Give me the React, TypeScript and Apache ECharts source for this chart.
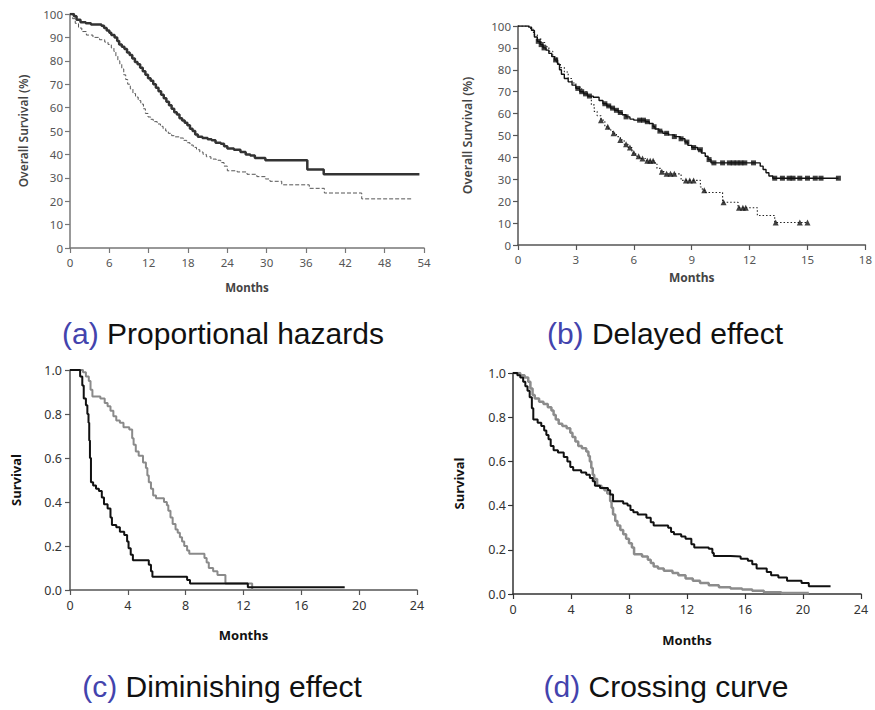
import React, { useEffect, useRef } from "react";
import * as echarts from "echarts";

// ---------- (a) Proportional hazards ----------
const aSolidT = [0,0.6,1.0,1.6,2.4,3.2,4.8,5.2,5.6,6.0,6.3,6.8,7.2,7.5,7.9,8.3,8.7,9.1,9.5,9.9,10.3,10.7,11.1,11.5,11.9,12.3,12.7,13.1,13.5,13.9,14.3,14.7,15.1,15.5,15.9,16.3,16.7,17.1,17.5,17.9,18.3,18.7,19.1,19.5,20.2,21.0,21.6,22.2,23.0,23.5,24.0,25.0,26.0,26.8,27.5,28.2,29.8,36.2,38.7,53.3];
const aSolidS = [100,99,97.5,96.5,96,95.5,95,94,93,92,91,90,88.5,87,86,85,83.5,82.5,81,79.5,78.5,77,75.5,74,72.5,71.5,70,68.5,67,65.5,64,62.5,61,59.5,58,57,55.5,54.5,53.5,52.5,51,50,48.5,47.5,47,46.5,46,45,44.5,43.5,42.5,42,41,40,39.5,38.5,37.5,33.5,31.5,31.5];
const aDashT = [0,0.4,0.8,1.3,1.8,2.5,3.5,4.5,5.3,5.8,6.3,6.7,7.0,7.3,7.6,7.9,8.2,8.5,8.8,9.2,9.6,10.0,10.4,10.8,11.2,11.5,11.9,12.3,12.7,13.3,13.8,14.2,14.6,15.0,15.5,16.0,16.8,17.3,17.8,18.3,18.8,19.3,19.8,20.3,20.8,21.5,22.3,23.0,23.5,24.0,25.5,27.0,28.5,29.8,30.5,32.3,36.5,38.8,44.5,52.3];
const aDashS = [100,98,96,94,92.5,91,90,89,88,87,85.5,84,82,80,78.5,76.5,74,72,70,68,66,64.5,63,61.5,59.5,57.5,56,55,54,53,52,51,50,49,48,47.5,47,46,45,44,43,42,41,40,39,38,37.5,36.5,35,33,32.5,31.5,30.5,29.5,28.5,27,25.5,23.5,21,21];

// ---------- (b) Delayed effect ----------
const bSolidT = [0,0.55,0.7,0.85,1.0,1.15,1.3,1.45,1.6,1.75,1.9,2.05,2.15,2.25,2.4,2.6,2.8,3.0,3.2,3.4,3.6,3.9,4.2,4.4,4.6,4.8,5.0,5.2,5.4,5.6,5.8,6.0,6.6,6.8,7.0,7.1,7.3,7.5,7.8,8.1,8.4,8.65,8.8,9.0,9.3,9.5,9.7,9.85,10.0,12.55,12.7,12.85,13.0,13.2,16.6];
const bSolidS = [100,99.5,98,95,93,91.5,90,89,87.5,86,84.5,82.5,80,78,76,74.5,73,71.5,70,69,68,67.5,66,64.5,63.5,62.5,61.5,60.5,59.5,58.5,57.5,57,56.3,55.5,54,53,52,51,50.3,49.5,48.5,47,45.5,44.5,43.5,42,40.5,39,37.5,36,34.5,33,31.5,30.5,30.5];
const bDotT = [0,0.5,0.65,0.8,1.0,1.2,1.4,1.6,1.8,2.0,2.2,2.4,2.6,2.8,3.0,3.3,3.6,3.8,3.95,4.1,4.3,4.5,4.7,4.9,5.1,5.3,5.5,5.7,5.9,6.1,6.3,6.6,7.1,7.2,7.4,7.6,8.45,9.45,9.55,9.7,10.6,11.4,12.4,13.3,15.0];
const bDotS = [100,100,98.5,96,94,92.5,90.5,88.5,86,83,81,79,76,74,72,70,68,64,61,59,57,54,52.5,51,49.5,48,46,44.5,42,40.5,39.5,38.5,37,35,33.5,32.5,29.5,26.5,25,24,19.5,17,13.5,10.3,10.3];
const bSquareCensorT = [1.05,1.2,1.35,1.95,3.1,3.3,3.5,3.7,4.5,4.7,4.9,5.1,5.3,5.6,6.3,6.5,6.7,7.05,7.35,7.7,8.1,8.45,8.75,9.1,9.45,9.9,10.15,10.6,10.95,11.15,11.35,11.55,11.75,12.2,13.3,13.7,14.05,14.25,14.6,15.0,15.4,15.7,16.6];
const bTriangleCensorT = [4.3,4.65,4.95,5.3,5.6,5.8,6.0,6.25,6.45,6.7,6.85,7.0,7.45,7.7,7.9,8.1,8.7,8.9,9.1,9.65,10.65,11.45,11.65,11.8,13.35,14.6,15.0];

// ---------- (c) Diminishing effect ----------
const cBlackT = [0,0.7,0.85,0.95,1.1,1.2,1.28,1.33,1.38,1.45,1.6,1.8,2.0,2.2,2.35,2.6,2.8,2.9,3.2,3.45,3.75,3.95,4.05,4.2,4.35,5.45,5.6,5.7,8.1,8.3,12.3,19.0];
const cBlackS = [1,0.97,0.93,0.87,0.84,0.8,0.76,0.68,0.6,0.49,0.475,0.46,0.45,0.42,0.39,0.37,0.33,0.295,0.285,0.265,0.25,0.22,0.19,0.16,0.135,0.115,0.085,0.06,0.045,0.03,0.012,0.012];
const cGrayT = [0,0.9,1.1,1.3,1.42,1.55,2.1,2.4,2.6,2.8,3.0,3.2,3.45,3.7,4.1,4.3,4.4,4.55,4.75,5.05,5.25,5.35,5.45,5.6,5.75,5.95,6.5,6.7,6.8,6.95,7.1,7.3,7.45,7.6,7.75,7.9,8.1,8.25,9.3,9.45,9.6,9.9,10.2,10.75,12.6];
const cGrayS = [1,0.99,0.97,0.95,0.91,0.88,0.87,0.85,0.835,0.815,0.79,0.77,0.76,0.74,0.73,0.69,0.66,0.63,0.61,0.58,0.555,0.52,0.49,0.46,0.43,0.417,0.4,0.385,0.36,0.33,0.3,0.275,0.26,0.24,0.22,0.2,0.18,0.165,0.145,0.125,0.1,0.085,0.068,0.03,0];

// ---------- (d) Crossing curve ----------
const dBlackT = [0,0.3,0.5,0.7,0.85,1.0,1.15,1.3,1.4,1.7,1.95,2.15,2.3,2.45,2.6,2.8,3.1,3.5,3.75,3.95,4.15,4.7,5.05,5.3,5.5,5.65,6.0,6.55,6.7,6.9,7.6,7.9,8.1,8.3,8.6,9.2,9.5,9.7,10.7,10.9,11.1,11.6,11.9,12.3,12.5,13.5,13.75,13.85,15.0,15.7,16.2,16.5,16.8,17.5,17.8,18.3,18.9,19.9,20.4,21.9];
const dBlackS = [1,0.99,0.98,0.96,0.94,0.92,0.89,0.84,0.79,0.775,0.76,0.74,0.72,0.7,0.67,0.65,0.64,0.62,0.6,0.575,0.56,0.55,0.54,0.525,0.51,0.49,0.48,0.47,0.45,0.42,0.41,0.4,0.38,0.37,0.36,0.345,0.325,0.31,0.3,0.28,0.27,0.26,0.25,0.225,0.21,0.205,0.185,0.172,0.17,0.16,0.15,0.135,0.115,0.1,0.085,0.075,0.06,0.05,0.035,0.035];
const dGrayT = [0,0.5,0.8,1.05,1.2,1.35,1.5,1.8,2.1,2.4,2.65,2.8,2.95,3.15,3.4,3.7,3.95,4.1,4.3,4.5,4.75,5.05,5.2,5.3,5.4,5.5,5.6,5.8,6.1,6.3,6.5,6.7,6.8,6.9,7.05,7.2,7.4,7.6,7.8,8.0,8.2,8.35,8.9,9.3,9.5,9.7,10.0,10.4,11.0,11.4,11.9,12.4,12.9,13.5,14.2,15.0,15.8,16.5,17.3,18.5,20.4];
const dGrayS = [1,0.99,0.98,0.96,0.93,0.9,0.885,0.87,0.86,0.845,0.83,0.81,0.79,0.77,0.76,0.75,0.73,0.71,0.69,0.67,0.66,0.645,0.625,0.6,0.57,0.54,0.52,0.49,0.48,0.47,0.455,0.42,0.39,0.36,0.33,0.31,0.29,0.27,0.25,0.23,0.21,0.18,0.17,0.155,0.14,0.125,0.115,0.105,0.095,0.085,0.07,0.06,0.05,0.04,0.03,0.025,0.02,0.015,0.008,0.004,0.004];

// ---------- captions ----------
const captionTags = ["(a)", "(b)", "(c)", "(d)"];
const captionTexts = ["Proportional hazards", "Delayed effect", "Diminishing effect", "Crossing curve"];

const zip = (t: number[], s: number[]) => t.map((x, i) => [x, s[i]]);
const stepAt = (t: number[], s: number[], x: number) => {
  let v = s[0];
  for (let i = 0; i < t.length; i++) {
    if (t[i] <= x) v = s[i];
    else break;
  }
  return v;
};

const TICK_FONT = "Noto Sans";
const CAP_FONT = "Liberation Sans";

function xAxis(gridIndex: number, max: number, interval: number, st: any) {
  return {
    type: "value",
    gridIndex,
    min: 0,
    max,
    interval,
    name: "Months",
    nameLocation: "middle",
    nameGap: st.xNameGap,
    nameTextStyle: { fontFamily: TICK_FONT, fontWeight: "bold", fontSize: st.xNameSize, color: st.nameColor },
    axisLine: { show: true, onZero: false, lineStyle: { color: st.axisColor, width: 1.5 } },
    axisTick: { show: true, length: 5, lineStyle: { color: st.axisColor, width: 1.2 } },
    axisLabel: { fontFamily: TICK_FONT, fontSize: st.labelSize, color: st.labelColor, margin: st.xMargin },
    splitLine: { show: false },
  };
}

function yAxis(gridIndex: number, max: number, interval: number, name: string, st: any, fmt?: (v: number) => string) {
  return {
    type: "value",
    gridIndex,
    min: 0,
    max,
    interval,
    name,
    nameLocation: "middle",
    nameRotate: 90,
    nameGap: st.yNameGap,
    nameTextStyle: { fontFamily: TICK_FONT, fontWeight: st.yNameWeight, fontSize: st.yNameSize, color: st.nameColor },
    axisLine: { show: true, onZero: false, lineStyle: { color: st.axisColor, width: 1.5 } },
    axisTick: { show: true, length: 5, lineStyle: { color: st.axisColor, width: 1.2 } },
    axisLabel: { fontFamily: TICK_FONT, fontSize: st.labelSize, color: st.labelColor, margin: st.yMargin, formatter: fmt },
    splitLine: { show: false },
  };
}

const stA = { axisColor: "#777", labelColor: "#555", labelSize: 11.5, xNameSize: 11.5, yNameSize: 12, yNameWeight: 600, nameColor: "#444", xNameGap: 33, yNameGap: 41, xMargin: 8, yMargin: 7 };
const stB = { axisColor: "#555", labelColor: "#555", labelSize: 11.5, xNameSize: 12, yNameSize: 12.5, yNameWeight: 600, nameColor: "#444", xNameGap: 26, yNameGap: 44, xMargin: 8, yMargin: 7 };
const stC = { axisColor: "#555", labelColor: "#333", labelSize: 12.5, xNameSize: 13, yNameSize: 13, yNameWeight: "bold", nameColor: "#111", xNameGap: 38, yNameGap: 48, xMargin: 9, yMargin: 8 };
const stD = { axisColor: "#333", labelColor: "#333", labelSize: 12.5, xNameSize: 13, yNameSize: 13, yNameWeight: "bold", nameColor: "#111", xNameGap: 39, yNameGap: 48, xMargin: 9, yMargin: 7 };

const fmt1 = (v: number) => v.toFixed(1);

function stepLine(xi: number, data: number[][], color: string, width: number, type: any = "solid") {
  return {
    type: "line",
    xAxisIndex: xi,
    yAxisIndex: xi,
    step: "end",
    showSymbol: false,
    symbol: "none",
    data,
    lineStyle: { color, width, type },
    z: 3,
  };
}

const captionPos = [
  [223, 333],
  [665, 333],
  [222, 686],
  [666, 686],
];

const option: any = {
  animation: false,
  backgroundColor: "#fff",
  grid: [
    { left: 70, top: 14, width: 354, height: 234 },
    { left: 518, top: 26, width: 348, height: 219 },
    { left: 70, top: 370, width: 347, height: 220 },
    { left: 513, top: 373, width: 348, height: 221 },
  ],
  xAxis: [
    xAxis(0, 54, 6, stA),
    xAxis(1, 18, 3, stB),
    xAxis(2, 24, 4, stC),
    xAxis(3, 24, 4, stD),
  ],
  yAxis: [
    yAxis(0, 100, 10, "Overall Survival (%)", stA),
    yAxis(1, 100, 10, "Overall Survival (%)", stB),
    yAxis(2, 1, 0.2, "Survival", stC, fmt1),
    yAxis(3, 1, 0.2, "Survival", stD, fmt1),
  ],
  series: [
    stepLine(0, zip(aDashT, aDashS), "#555", 1, [4, 2]),
    stepLine(0, zip(aSolidT, aSolidS), "#333", 2.5),
    stepLine(1, zip(bDotT, bDotS), "#222", 1.1, [1.5, 2]),
    stepLine(1, zip(bSolidT, bSolidS), "#111", 1.4),
    {
      type: "scatter",
      xAxisIndex: 1,
      yAxisIndex: 1,
      symbol: "rect",
      symbolSize: 5,
      itemStyle: { color: "#111" },
      data: bSquareCensorT.map((t) => [t, stepAt(bSolidT, bSolidS, t)]),
      z: 4,
    },
    {
      type: "scatter",
      xAxisIndex: 1,
      yAxisIndex: 1,
      symbol: "triangle",
      symbolSize: 6,
      itemStyle: { color: "#111" },
      data: bTriangleCensorT.map((t) => [t, stepAt(bDotT, bDotS, t)]),
      z: 4,
    },
    stepLine(2, zip(cGrayT, cGrayS), "#8a8a8a", 2),
    stepLine(2, zip(cBlackT, cBlackS), "#111", 2),
    stepLine(3, zip(dGrayT, dGrayS), "#8c8c8c", 2.5),
    stepLine(3, zip(dBlackT, dBlackS), "#111", 2),
  ],
  graphic: captionTags.map((tag, i) => ({
    type: "text",
    x: captionPos[i][0],
    y: captionPos[i][1],
    style: {
      text: `{p|${tag}}{t| ${captionTexts[i]}}`,
      align: "center",
      verticalAlign: "middle",
      rich: {
        p: { fontFamily: CAP_FONT, fontSize: 30, fill: "#4343ad", color: "#4343ad" },
        t: { fontFamily: CAP_FONT, fontSize: 30, fill: "#111", color: "#111" },
      },
    },
  })),
};

export default function App() {
  const ref = useRef<HTMLDivElement>(null);
  useEffect(() => {
    const chart = echarts.init(ref.current!, null, { renderer: "svg" });
    chart.setOption(option);
    return () => chart.dispose();
  }, []);
  return (
    <div
      ref={ref}
      style={{ position: "absolute", left: 0, top: 0, width: 875, height: 710, background: "#fff" }}
    />
  );
}
